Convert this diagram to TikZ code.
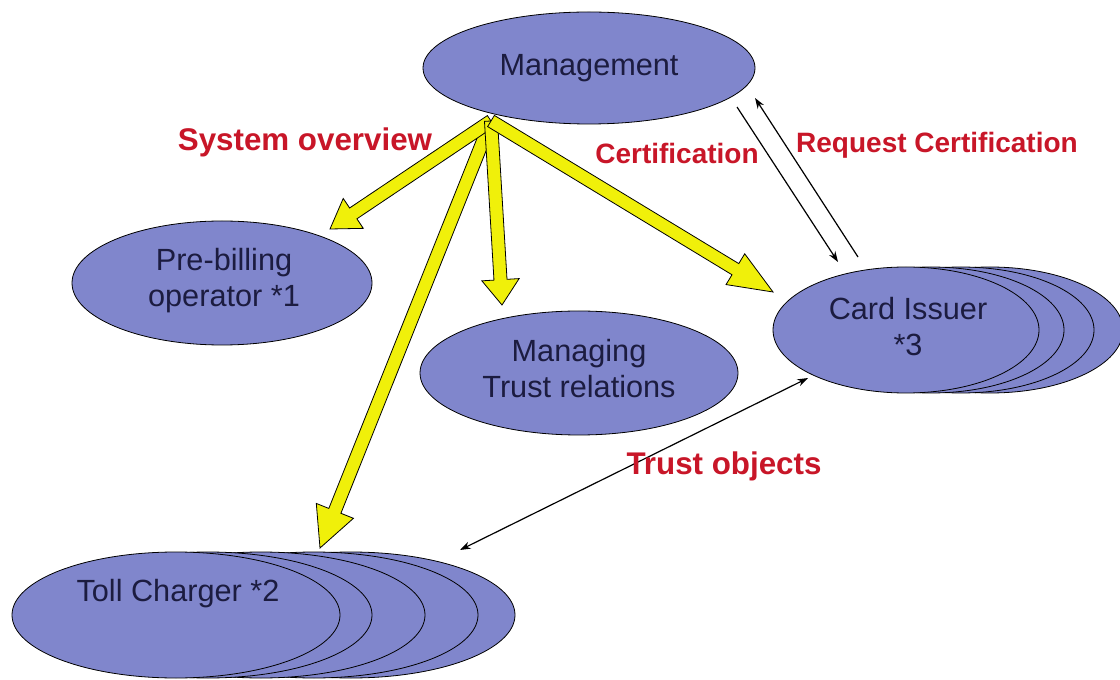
\documentclass[tikz,border=0pt]{standalone}
\usepackage{fontspec}
\setmainfont{Liberation Sans}
\usetikzlibrary{shapes.geometric,arrows.meta,calc}
\definecolor{ellfill}{RGB}{128,134,204}
\definecolor{navy}{RGB}{28,28,64}
\definecolor{lblred}{RGB}{200,22,40}
\definecolor{yel}{RGB}{240,240,10}
% #1 from, #2 to, #3 head length, #4 head half width
\newcommand\yarr[4]{%
  \path ($(#2)!#3!(#1)$) coordinate (yh);
  \draw[yarrowstyle] ($(#1)!4.9pt!90:(#2)$) -- ($(yh)!4.9pt!90:(#2)$) -- ($(yh)!#4!90:(#2)$) -- (#2)
    -- ($(yh)!#4!-90:(#2)$) -- ($(yh)!4.9pt!-90:(#2)$) -- ($(#1)!4.9pt!-90:(#2)$) -- cycle;}
\begin{document}
\begin{tikzpicture}[x=0.75pt,y=-0.75pt,
  ent/.style={ellipse, draw=black, line width=0.6pt, fill=ellfill, inner sep=0pt},
  txt/.style={text=navy, font=\fontsize{23}{27}\selectfont, align=center, inner sep=0pt},
  lbl/.style={text=lblred, font=\fontsize{21}{25}\selectfont\bfseries, inner sep=0pt},
  biglbl/.style={lbl, font=\fontsize{23.5}{27}\selectfont\bfseries},
  thinarrow/.style={line width=0.9pt, -{Stealth[length=8pt,width=5.5pt]}},
  thinboth/.style={line width=0.9pt, {Stealth[length=8pt,width=5.5pt]}-{Stealth[length=8pt,width=5.5pt]}},
  yarrowstyle/.style={fill=yel, draw=black, line width=0.6pt, line join=miter}]
\useasboundingbox (0,0) rectangle (1120,680);
\fill[white] (0,0) rectangle (1120,680);
% Management
\node[ent, minimum width=249pt, minimum height=84pt] (mgmt) at (589,68) {};
% Pre-billing
\node[ent, minimum width=225pt, minimum height=93pt] (pre) at (222,283) {};
% Managing trust relations
\node[ent, minimum width=238.5pt, minimum height=93pt] (tr) at (579,373) {};
% Card issuer stack
\node[ent, minimum width=199.5pt, minimum height=94.5pt] (ci4) at (990,330) {};
\node[ent, minimum width=199.5pt, minimum height=94.5pt] (ci3) at (961,330) {};
\node[ent, minimum width=199.5pt, minimum height=94.5pt] (ci2) at (931,330) {};
\node[ent, minimum width=199.5pt, minimum height=94.5pt] (ci) at (906,330) {};
% Toll charger stack
\node[ent, minimum width=246pt, minimum height=94.5pt] (tc5) at (351,615) {};
\node[ent, minimum width=246pt, minimum height=94.5pt] (tc4) at (314,615) {};
\node[ent, minimum width=246pt, minimum height=94.5pt] (tc3) at (261,615) {};
\node[ent, minimum width=246pt, minimum height=94.5pt] (tc2) at (208,615) {};
\node[ent, minimum width=246pt, minimum height=94.5pt] (tc) at (176,615) {};
% texts
\node[txt] (mgmtT) at (589,68) {Management};
\node[txt] (preT) at (224,281) {Pre-billing\\operator *1};
\node[txt] (trT) at (579,369) {Managing\\Trust relations};
\node[txt] (ciT) at (908,327) {Card Issuer\\*3};
\node[txt] (tcT) at (178,594) {Toll Charger *2};
% yellow arrows
\coordinate (hub) at (491,121);
\coordinate (tPre) at (330,229);
\coordinate (tTr) at (502,305);
\coordinate (tTc) at (320,548);
\coordinate (tCi) at (773,292);
\yarr{hub}{tTc}{30pt}{15pt}
\yarr{hub}{tPre}{21pt}{13.5pt}
\yarr{hub}{tTr}{19pt}{14pt}
\yarr{hub}{tCi}{33pt}{13.5pt}
% thin arrows
\coordinate (certA) at (737,107);
\coordinate (certB) at (838,262);
\coordinate (reqA) at (858,257);
\coordinate (reqB) at (755,98);
\coordinate (toA) at (808,378);
\coordinate (toB) at (460,550);
\draw[thinarrow] (certA) -- (certB);
\draw[thinarrow] (reqA) -- (reqB);
\draw[thinboth] (toB) -- (toA);
% labels
\node[biglbl] (l1) at (305,142) {System overview};
\node[lbl] (l2) at (677,153) {Certification};
\node[lbl] (l3) at (937,145) {Request Certification};
\node[biglbl] (l4) at (724,466) {Trust objects};
\end{tikzpicture}
\end{document}
